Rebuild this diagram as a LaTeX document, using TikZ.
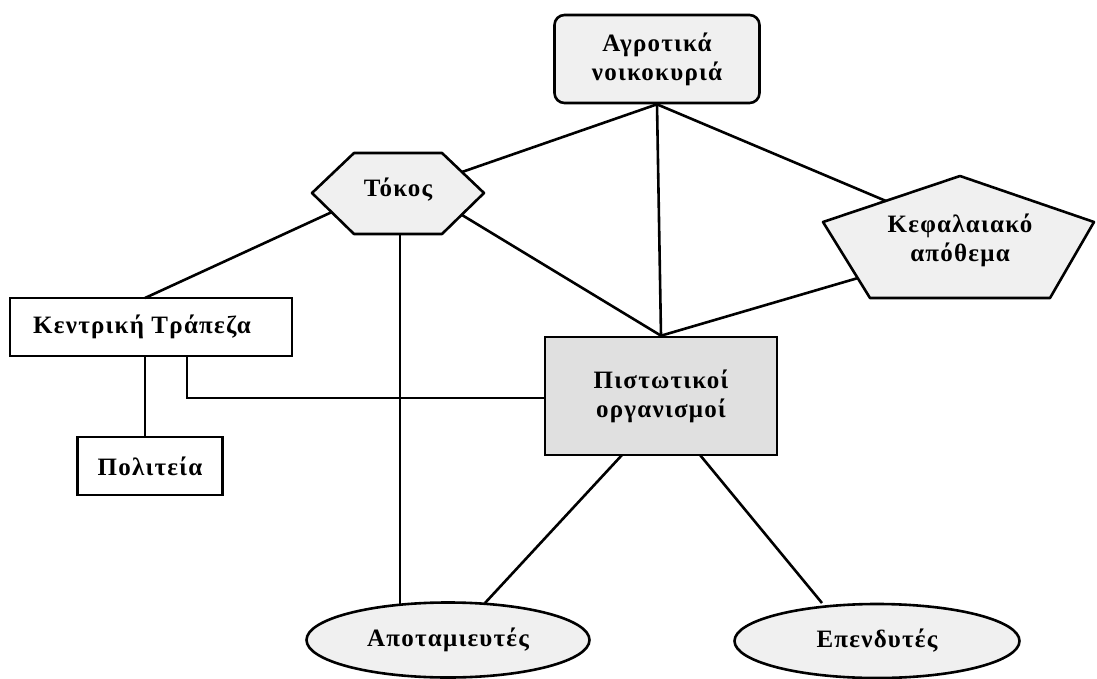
\documentclass[tikz,border=0pt]{standalone}
\usepackage{fontspec}
\setmainfont{Liberation Serif}[LetterSpace=5.0]
\usetikzlibrary{shapes.geometric}
\newcommand{\txtfont}{\fontsize{25}{29}\selectfont\bfseries}
\begin{document}
\begin{tikzpicture}[x=1pt,y=-1pt,
  lw/.style={line width=2.6pt},
  lightfill/.style={fill=gray!12},
  darkfill/.style={fill=gray!24},
  box/.style={draw, lw, font=\txtfont, align=center, inner sep=0pt},
  label/.style={font=\txtfont, align=center, inner sep=0pt},
  conn/.style={lw}]
\useasboundingbox[fill=white] (0,0) rectangle (1097,679);

% nodes
\node[box, lightfill, rounded corners=10pt, minimum width=205pt, minimum height=88pt] (agro) at (657,59) {Αγροτικά\\νοικοκυριά};
\node[box, fill=white, minimum width=282pt, minimum height=58pt] (kent) at (151,327) {\hspace*{-18pt}Κεντρική Τράπεζα};
\node[box, fill=white, minimum width=145pt, minimum height=58pt] (pol) at (150,466) {Πολιτεία};
\node[box, darkfill, minimum width=232pt, minimum height=118pt] (pist) at (661,396) {Πιστωτικοί\\οργανισμοί};
\node[box, lightfill, ellipse, minimum width=283pt, minimum height=75pt] (apot) at (448,640) {Αποταμιευτές};
\node[box, lightfill, ellipse, minimum width=285pt, minimum height=74pt] (epen) at (877,641) {Επενδυτές};

% hexagon (Τόκος)
\draw[lw, lightfill, line join=round] (354,153) -- (442,153) -- (484,193) -- (442,234) -- (354,234) -- (312,193) -- cycle;
\node[label] (tok) at (398,190) {Τόκος};
% pentagon (Κεφαλαιακό απόθεμα)
\draw[lw, lightfill, line join=round] (960,176) -- (1094,222) -- (1050,298) -- (870,298) -- (823,222) -- cycle;
\node[label] (kef) at (960,240) {Κεφαλαιακό\\απόθεμα};

% connector end points on drawn shapes
\coordinate (tokNE) at (462,172);
\coordinate (tokSE) at (462,215);
\coordinate (tokSW) at (332,212);
\coordinate (tokS) at (400,234);
\coordinate (apotT) at (400,605);
\coordinate (kefUL) at (886,201);
\coordinate (kefLL) at (858,278);
\coordinate (kentA) at (145,356);
\coordinate (kentB) at (187,356);
\coordinate (kentT) at (145,298);
\coordinate (polT) at (145,437);
\coordinate (pistL) at (545,398);
\coordinate (pistBL) at (622,455);
\coordinate (pistBR) at (700,455);
\coordinate (apotR) at (485,603);
\coordinate (epenL) at (822,603);

% connectors
\draw[conn] (agro.south) -- (pist.north);
\draw[conn] (agro.south) -- (tokNE);
\draw[conn] (agro.south) -- (kefUL);
\draw[conn] (tokSE) -- (pist.north);
\draw[conn] (kefLL) -- (pist.north);
\draw[conn] (tokSW) -- (kentT);
\draw[conn] (tokS) -- (apotT);
\draw[conn] (kentA) -- (polT);
\draw[conn] (kentB) |- (pistL);
\draw[conn] (pistBL) -- (apotR);
\draw[conn] (pistBR) -- (epenL);
\end{tikzpicture}
\end{document}
